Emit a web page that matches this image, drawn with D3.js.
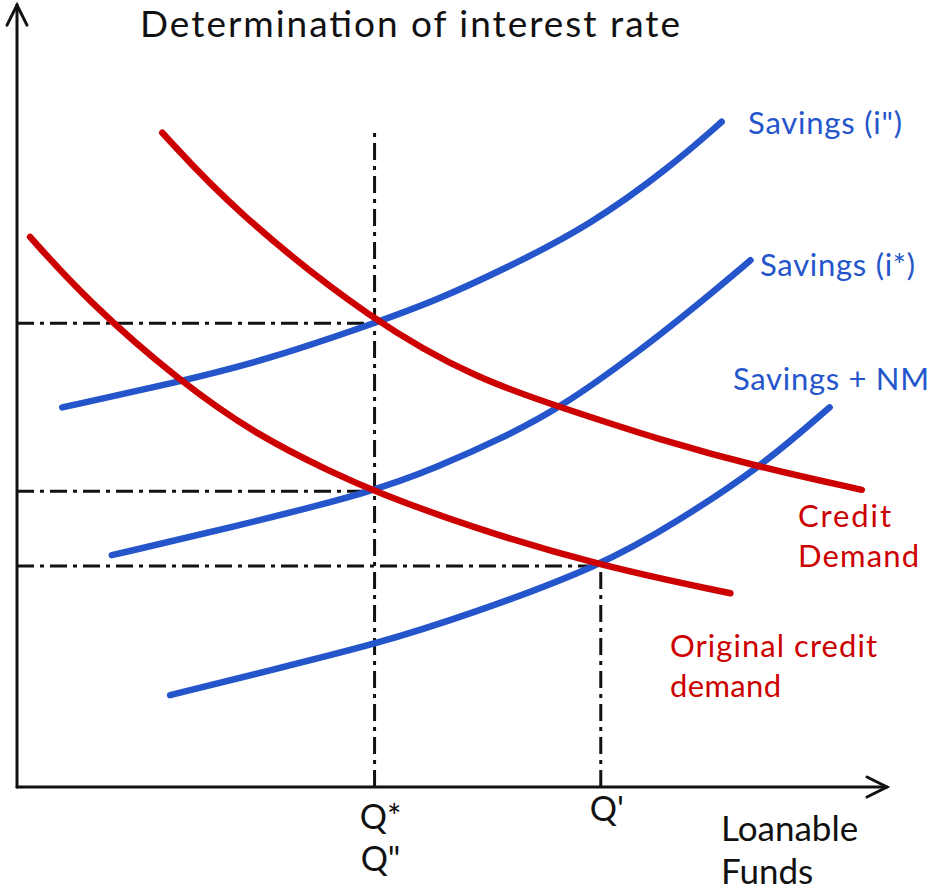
<!DOCTYPE html>
<html>
<head>
<meta charset="utf-8">
<script src="https://cdn.jsdelivr.net/npm/d3@7"></script>
<style>
  body { margin: 0; background: #fff; }
  svg { display: block; font-family: Lato, "Open Sans", sans-serif; }
</style>
</head>
<body>
<svg id="chart"></svg>
<script>
// Curves in chart units: [quantity, interest rate]
const savingsHigh = [[0.52, 4.88], [1.87, 5.21], [2.87, 5.49], [4.11, 5.96], [4.83, 6.26], [5.59, 6.65], [6.59, 7.22], [7.51, 7.97], [8.10, 8.55]];
const savingsMid = [[1.09, 2.98], [2.48, 3.34], [4.11, 3.80], [4.83, 4.11], [5.59, 4.49], [6.24, 4.87], [7.13, 5.58], [7.89, 6.26], [8.43, 6.77]];
const savingsNM = [[1.76, 1.18], [2.87, 1.49], [4.14, 1.84], [5.21, 2.22], [6.71, 2.84], [7.59, 3.41], [8.57, 4.13], [9.34, 4.88]];
const creditDemand = [[1.67, 8.41], [2.48, 7.42], [4.11, 5.96], [5.32, 5.23], [6.28, 4.87], [7.39, 4.46], [8.57, 4.10], [9.71, 3.82]];
const originalDemand = [[0.15, 7.07], [0.80, 6.26], [1.87, 5.21], [2.79, 4.50], [3.63, 4.04], [4.11, 3.80], [5.21, 3.34], [6.71, 2.84], [8.20, 2.49]];

// Equilibrium rates and quantities used for the guide lines
const rateLevels = [5.96, 3.80, 2.84];
const quantityLevels = [4.11, 6.71];
const quantityLabels = [["Q*", "Q\""], ["Q'"]];

const blue = "#2455cb";
const red = "#cc0000";

const width = 932, height = 893;
const svg = d3.select("#chart").attr("width", width).attr("height", height);

// Scales
const x = d3.scaleLinear().domain([0, 10]).range([17, 887]);
const y = d3.scaleLinear().domain([0, 10]).range([787, 9]);

const line = d3.line()
    .x(d => x(d[0]))
    .y(d => y(d[1]))
    .curve(d3.curveBasis);

// Dash-dot guide lines
const guides = svg.append("g")
    .attr("stroke", "#111")
    .attr("stroke-width", 3)
    .attr("stroke-dasharray", "17,6,4,6");

guides.selectAll(".h")
    .data([[rateLevels[0], quantityLevels[0]], [rateLevels[1], quantityLevels[0]], [rateLevels[2], quantityLevels[1]]])
    .enter()
    .append("line")
    .attr("x1", x(0))
    .attr("x2", d => x(d[1]))
    .attr("y1", d => y(d[0]))
    .attr("y2", d => y(d[0]));

guides.selectAll(".v")
    .data([[quantityLevels[0], 8.47], [quantityLevels[1], rateLevels[2]]])
    .enter()
    .append("line")
    .attr("x1", d => x(d[0]))
    .attr("x2", d => x(d[0]))
    .attr("y1", y(0))
    .attr("y2", d => y(d[1]));

// Axes with open arrowheads
const axes = svg.append("g")
    .attr("stroke", "#111")
    .attr("stroke-width", 3)
    .attr("fill", "none")
    .attr("stroke-linecap", "round");

axes.append("path").attr("d", `M${x(0)},${y(0)}V${y(10.05)}`);
axes.append("path").attr("d", `M${x(0) - 10},${y(10.05) + 20}L${x(0)},${y(10.05)}L${x(0) + 10},${y(10.05) + 20}`);
axes.append("path").attr("d", `M${x(0)},${y(0)}H${x(10)}`);
axes.append("path").attr("d", `M${x(10) - 20},${y(0) - 10}L${x(10)},${y(0)}L${x(10) - 20},${y(0) + 10}`);

// Curves
const curves = [
    { data: savingsHigh, color: blue },
    { data: savingsMid, color: blue },
    { data: savingsNM, color: blue },
    { data: creditDemand, color: red },
    { data: originalDemand, color: red }
];

svg.append("g")
    .selectAll("path")
    .data(curves)
    .enter()
    .append("path")
    .attr("d", d => line(d.data))
    .attr("fill", "none")
    .attr("stroke", d => d.color)
    .attr("stroke-width", 6.5)
    .attr("stroke-linecap", "round");

// Title
svg.append("text")
    .attr("x", 140)
    .attr("y", 37)
    .attr("font-size", 37)
    .attr("textLength", 540)
    .attr("lengthAdjust", "spacing")
    .attr("fill", "#111")
    .text("Determination of interest rate");

// Curve labels: [text, width] per line
const labels = [
    { lines: [["Savings (i\")", 154]], x: 748, y: 134, color: blue },
    { lines: [["Savings (i*)", 155]], x: 760, y: 276, color: blue },
    { lines: [["Savings + NM", 196]], x: 733, y: 390, color: blue },
    { lines: [["Credit", 93], ["Demand", 121]], x: 798, y: 527, color: red },
    { lines: [["Original credit", 207], ["demand", 111]], x: 670, y: 657, color: red }
];

labels.forEach(l => {
    l.lines.forEach((s, i) => {
        svg.append("text")
            .attr("x", l.x)
            .attr("y", l.y + i * 40)
            .attr("font-size", 31)
            .attr("textLength", s[1])
            .attr("lengthAdjust", "spacing")
            .attr("fill", l.color)
            .text(s[0]);
    });
});

// Quantity tick labels under the x axis
quantityLevels.forEach((q, i) => {
    const t = svg.append("text")
        .attr("x", x(q) + 6)
        .attr("y", i === 0 ? 829 : 821)
        .attr("font-size", 34)
        .attr("text-anchor", "middle")
        .attr("fill", "#111");
    quantityLabels[i].forEach((s, j) => {
        t.append("tspan").attr("x", x(q) + 6).attr("dy", j ? 42 : 0).text(s);
    });
});

// X axis title
const xt = svg.append("text")
    .attr("x", 721)
    .attr("y", 841)
    .attr("font-size", 35)
    .attr("fill", "#111");
["Loanable", "Funds"].forEach((s, i) => {
    xt.append("tspan").attr("x", 721).attr("dy", i ? 43 : 0).text(s);
});
</script>
</body>
</html>
